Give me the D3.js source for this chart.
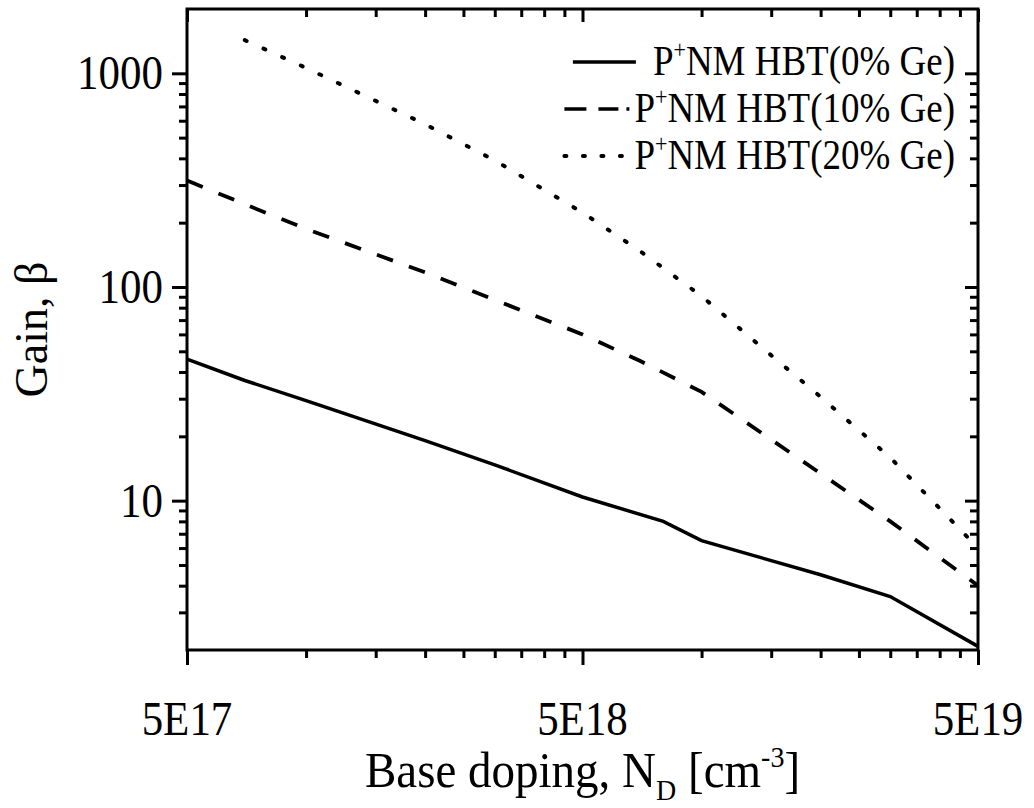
<!DOCTYPE html>
<html>
<head>
<meta charset="utf-8">
<script src="https://cdn.jsdelivr.net/npm/d3@7.9.0/dist/d3.min.js"></script>
<style>
body { margin: 0; background: #fff; }
text { font-family: "Liberation Serif", "Times New Roman", serif; fill: #000; }
</style>
</head>
<body>
<svg id="chart" width="1034" height="808"></svg>
<script>
// values (x: base doping in cm^-3, y: gain)
const doping0 = [5e17, 7e17, 1e18, 2e18, 3e18, 5e18, 8e18, 1e19, 2e19, 3e19, 5e19];
const gain0   = [46, 36.5, 29.4, 19.1, 14.7, 10.4, 8.0, 6.5, 4.5, 3.56, 2.08];

const doping10 = [5e17, 7e17, 1e18, 2e18, 3e18, 5e18, 7e18, 1e19, 2e19, 3e19, 5e19];
const gain10   = [315, 244, 187, 117, 87, 60, 45, 32.3, 13.4, 8.0, 4.0];

const doping20 = [7e17, 1e18, 2e18, 3e18, 5e18, 7e18, 1e19, 1.55e19, 2e19, 3e19, 4e19, 5e19];
const gain20   = [1430, 1060, 578, 391, 223, 147, 90.6, 45.5, 30.6, 15.9, 9.2, 6.0];

const seriesNames = ["0% Ge", "10% Ge", "20% Ge"];

const xMajor = [5e17, 5e18, 5e19];
const xMajorLabels = ["5E17", "5E18", "5E19"];
const yMajor = [10, 100, 1000];
const yMajorLabels = ["10", "100", "1000"];

const svg = d3.select("#chart");
const pL = 187, pR = 978, pT = 9, pB = 650;
const stretch = 1.12;   // the original lettering is a bit taller than Liberation Serif

const x = d3.scaleLog().domain([5e17, 5e19]).range([pL, pR]);
const y = d3.scaleLog().domain([2, 2000]).range([pB, pT]);

// minor ticks: x at k * 5E17 * 10^n, y at k * 10^n
const xMinorVals = [];
[5e17, 5e18].forEach(b => { for (let k = 2; k <= 9; k++) xMinorVals.push(b * k); });
const yMinor = [];
[1, 10, 100, 1000].forEach(b => { for (let k = 2; k <= 9; k++) { const v = b * k; if (v > 2 && v < 2000) yMinor.push(v); } });

function styleAxis(g) {
  g.select(".domain").remove();
  g.selectAll(".tick line").attr("stroke", "#000").attr("stroke-width", 3);
}

// tall text: a group placed at (px, py) and stretched vertically
function tallText(px, py, size, anchor, sy) {
  return svg.append("g")
    .attr("transform", `translate(${px},${py}) scale(1,${sy || stretch})`)
    .append("text")
    .attr("text-anchor", anchor)
    .style("font-size", size + "px");
}

// bottom
svg.append("g").attr("transform", `translate(0,${pB})`)
  .call(d3.axisBottom(x).tickValues(xMinorVals).tickSize(8).tickFormat(""))
  .call(styleAxis);
svg.append("g").attr("transform", `translate(0,${pB})`)
  .call(d3.axisBottom(x).tickValues(xMajor).tickSize(15).tickFormat(""))
  .call(styleAxis);
// top (inward)
svg.append("g").attr("transform", `translate(0,${pT})`)
  .call(d3.axisTop(x).tickValues(xMinorVals).tickSize(-8).tickFormat(""))
  .call(styleAxis);
svg.append("g").attr("transform", `translate(0,${pT})`)
  .call(d3.axisTop(x).tickValues(xMajor).tickSize(-13).tickFormat(""))
  .call(styleAxis);
// left
svg.append("g").attr("transform", `translate(${pL},0)`)
  .call(d3.axisLeft(y).tickValues(yMinor).tickSize(8).tickFormat(""))
  .call(styleAxis);
svg.append("g").attr("transform", `translate(${pL},0)`)
  .call(d3.axisLeft(y).tickValues(yMajor).tickSize(15).tickFormat(""))
  .call(styleAxis);
// right (inward)
svg.append("g").attr("transform", `translate(${pR},0)`)
  .call(d3.axisRight(y).tickValues(yMinor).tickSize(-8).tickFormat(""))
  .call(styleAxis);
svg.append("g").attr("transform", `translate(${pR},0)`)
  .call(d3.axisRight(y).tickValues(yMajor).tickSize(-13).tickFormat(""))
  .call(styleAxis);

// tick labels
xMajor.forEach((v, i) => tallText(x(v), 735, 43, "middle").text(xMajorLabels[i]));
yMajor.forEach((v, i) => tallText(pL - 24, y(v) + 16, 43, "end").text(yMajorLabels[i]));

// frame
svg.append("rect")
  .attr("x", pL).attr("y", pT)
  .attr("width", pR - pL).attr("height", pB - pT)
  .attr("fill", "none").attr("stroke", "#000").attr("stroke-width", 3);

svg.append("clipPath").attr("id", "plotclip")
  .append("rect").attr("x", pL).attr("y", pT)
  .attr("width", pR - pL).attr("height", pB - pT);

const line = d3.line().x(d => x(d[0])).y(d => y(d[1]));
const styles = [
  { dash: null, cap: "butt", w: 3.5 },
  { dash: "17,17", cap: "butt", w: 3.8 },
  { dash: "2,18.5", cap: "round", w: 4 }
];
const series = [
  d3.zip(doping0, gain0),
  d3.zip(doping10, gain10),
  d3.zip(doping20, gain20)
];

const plot = svg.append("g").attr("clip-path", "url(#plotclip)");
series.forEach((s, i) => {
  plot.append("path").datum(s)
    .attr("fill", "none")
    .attr("stroke", "#000")
    .attr("stroke-width", styles[i].w)
    .attr("stroke-linecap", styles[i].cap)
    .attr("stroke-dasharray", styles[i].dash)
    .attr("d", line);
});

// legend
const legendDash = [null, "22,12,20,8,3,100", "2,16.5"];
seriesNames.forEach((name, i) => {
  const ly = 62 + i * 47;
  const t = tallText(955, ly + 13, 37, "end");
  t.append("tspan").text("P");
  t.append("tspan").attr("dy", -15).style("font-size", "22px").text("+");
  t.append("tspan").attr("dy", 15).text("NM HBT(" + name + ")");
  const bx = 955 + t.node().getBBox().x;
  const x1 = i === 0 ? bx - 17 : bx - 5;
  const len = i === 0 ? 63 : 65;
  svg.append("line")
    .attr("x1", x1 - len).attr("x2", x1)
    .attr("y1", ly).attr("y2", ly)
    .attr("stroke", "#000").attr("stroke-width", i === 2 ? 4 : 3.5)
    .attr("stroke-linecap", i === 2 ? "round" : "butt")
    .attr("stroke-dasharray", legendDash[i]);
});

// axis titles
const xt = tallText((pL + pR) / 2, 787, 47, "middle", 1.06);
xt.append("tspan").text("Base doping, N");
xt.append("tspan").attr("dy", 12).style("font-size", "28px").text("D");
xt.append("tspan").attr("dy", -12).text(" [cm");
xt.append("tspan").attr("dy", -19).style("font-size", "28px").text("-3");
xt.append("tspan").attr("dy", 19).text("]");

svg.append("text")
  .attr("transform", `translate(47,${(pT + pB) / 2}) rotate(-90)`)
  .attr("text-anchor", "middle")
  .style("font-size", "46px")
  .text("Gain, β");
</script>
</body>
</html>
